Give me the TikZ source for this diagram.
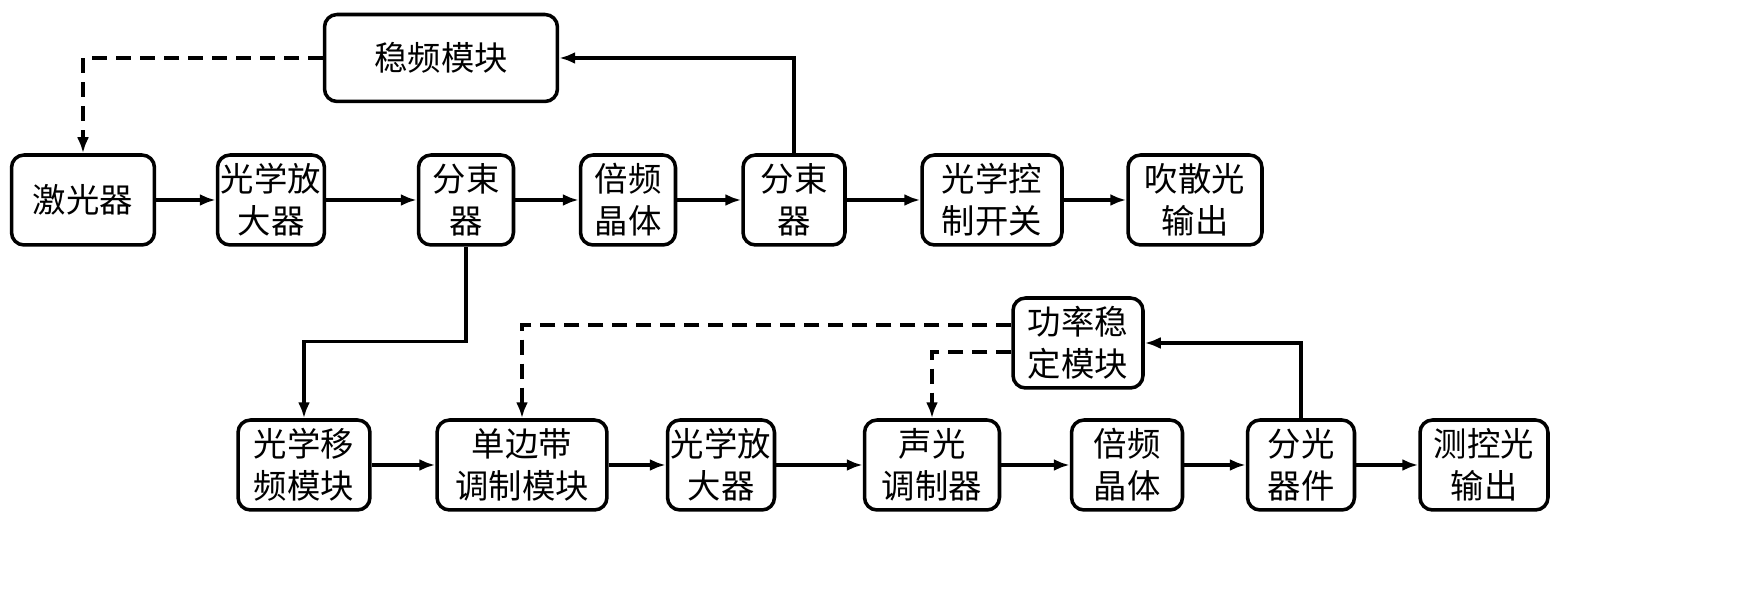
\documentclass[tikz,border=0pt]{standalone}
\usepackage{fontspec}
\newfontfamily\cjk{Noto Sans CJK SC}
\usetikzlibrary{arrows.meta}
\begin{document}
\begin{tikzpicture}
    [
    x=0.02cm,y=-0.02cm,
    blk/.style = {draw,line width=2pt,rounded corners=0.25cm,align=center,inner sep=0pt,
      font=\cjk\fontsize{19}{24}\selectfont},
    arr/.style = {line width=2pt,-{Latex[length=0.32cm,width=0.24cm]}},
    dsh/.style = {arr,dash pattern=on 0.3cm off 0.18cm}
    ]
\useasboundingbox (0,0) rectangle (1755,590);
% upper chain
\node[blk,minimum width=2.86cm,minimum height=1.8cm] (laser) at (83,200) {激光器};
\node[blk,minimum width=2.14cm,minimum height=1.8cm] (amp1) at (271,200) {光学放\\大器};
\node[blk,minimum width=1.9cm,minimum height=1.8cm] (bs1) at (466,200) {分束\\器};
\node[blk,minimum width=1.9cm,minimum height=1.8cm] (shg1) at (628,200) {倍频\\晶体};
\node[blk,minimum width=2.04cm,minimum height=1.8cm] (bs2) at (794,200) {分束\\器};
\node[blk,minimum width=2.8cm,minimum height=1.8cm] (sw) at (992,200) {光学控\\制开关};
\node[blk,minimum width=2.68cm,minimum height=1.8cm] (out1) at (1195,200) {吹散光\\输出};
\node[blk,minimum width=4.66cm,minimum height=1.74cm] (lock) at (441,58) {稳频模块};
% lower chain
\node[blk,minimum width=2.64cm,minimum height=1.8cm] (fs) at (304,465) {光学移\\频模块};
\node[blk,minimum width=3.4cm,minimum height=1.8cm] (ssb) at (522,465) {单边带\\调制模块};
\node[blk,minimum width=2.14cm,minimum height=1.8cm] (amp2) at (721,465) {光学放\\大器};
\node[blk,minimum width=2.7cm,minimum height=1.8cm] (aom) at (932,465) {声光\\调制器};
\node[blk,minimum width=2.22cm,minimum height=1.8cm] (shg2) at (1127,465) {倍频\\晶体};
\node[blk,minimum width=2.14cm,minimum height=1.8cm] (bs3) at (1301,465) {分光\\器件};
\node[blk,minimum width=2.56cm,minimum height=1.8cm] (out2) at (1484,465) {测控光\\输出};
\node[blk,minimum width=2.6cm,minimum height=1.8cm] (pwr) at (1078,343) {功率稳\\定模块};

\draw[arr] (laser) -- (amp1);
\draw[arr] (amp1) -- (bs1);
\draw[arr] (bs1) -- (shg1);
\draw[arr] (shg1) -- (bs2);
\draw[arr] (bs2) -- (sw);
\draw[arr] (sw) -- (out1);
\draw[arr] (fs) -- (ssb);
\draw[arr] (ssb) -- (amp2);
\draw[arr] (amp2) -- (aom);
\draw[arr] (aom) -- (shg2);
\draw[arr] (shg2) -- (bs3);
\draw[arr] (bs3) -- (out2);

\draw[dsh] (lock.west) -| (laser.north);
\draw[arr] (bs2.north) |- (lock.east);
\draw[arr] (bs1.south) -- ++(0,95) -| (fs.north);
\draw[dsh] (pwr.west |- 0,325) -| (ssb.north);
\draw[dsh] (pwr.west |- 0,352) -| (aom.north);
\draw[arr] (bs3.north) |- (pwr.east);
\end{tikzpicture}
\end{document}
